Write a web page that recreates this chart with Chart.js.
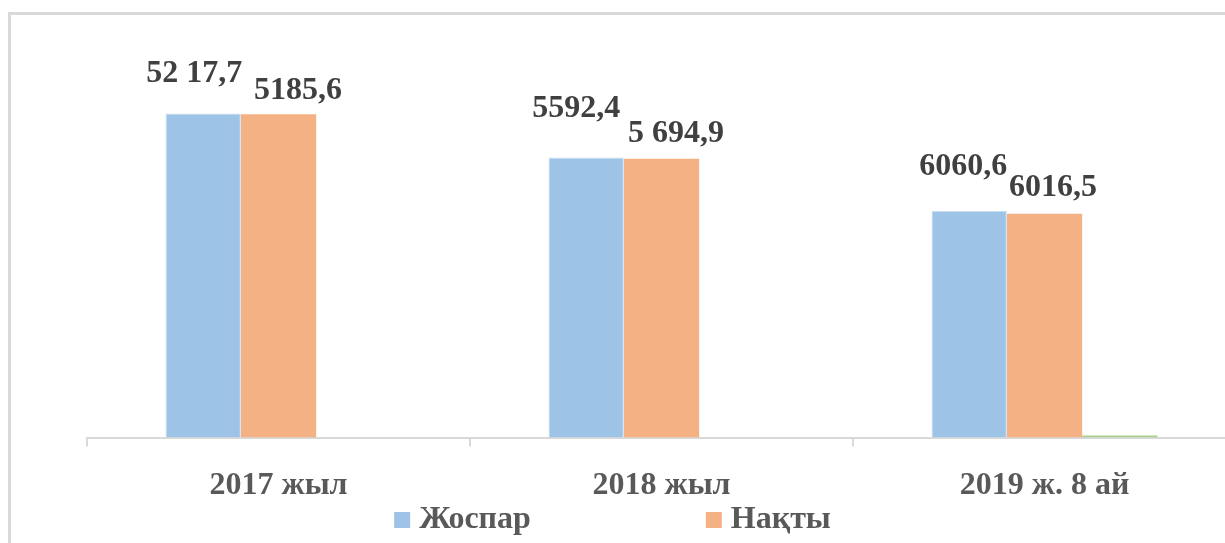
<!DOCTYPE html>
<html>
<head>
<meta charset="utf-8">
<script src="https://cdn.jsdelivr.net/npm/chart.js@4.4.1/dist/chart.umd.min.js"></script>
<style>
  html, body { margin: 0; padding: 0; background: #ffffff; overflow: hidden; width: 1225px; height: 543px; }
  canvas { display: block; }
</style>
</head>
<body>
<canvas id="c" width="1240" height="543" style="width:1240px;height:543px"></canvas>
<script>
// ---- data ----
const categories = ['2017 жыл', '2018 жыл', '2019 ж. 8 ай'];
const seriesNames = ['Жоспар', 'Нақты'];
// bar heights as drawn in the picture (relative units, axis 0..100)
const planHeights = [81.1, 70.1, 56.8];
const factHeights = [80.9, 69.8, 56.0];
const thirdHeights = [0, 0, 0.5];
// value labels printed above the bars
const planLabels = ['52 17,7', '5592,4', '6060,6'];
const factLabels = ['5185,6', '5 694,9', '6016,5'];

// ---- styles / label placement ----
const FONT = '"Liberation Serif", "Times New Roman", serif';
const colors = ['#9DC3E6', '#F4B183', '#A9D18E'];
const labelOffsets = [
  [[-9, -32], [-10, -40], [-6, -36]],
  [[19.5, -15], [14.5, -17], [8.5, -18]]
];
const valueLabels = [planLabels, factLabels];

const framePlugin = {
  id: 'frame',
  beforeDraw(chart) {
    const ctx = chart.ctx;
    ctx.save();
    ctx.fillStyle = '#d9d9d9';
    ctx.fillRect(8, 12, chart.width, 3);
    ctx.fillRect(8, 12, 3, chart.height);
    ctx.restore();
  }
};

const valueLabelPlugin = {
  id: 'valueLabels',
  afterDatasetsDraw(chart) {
    const ctx = chart.ctx;
    ctx.save();
    ctx.font = 'bold 32px ' + FONT;
    ctx.fillStyle = '#404040';
    ctx.textAlign = 'center';
    ctx.textBaseline = 'alphabetic';
    valueLabels.forEach((labels, di) => {
      const meta = chart.getDatasetMeta(di);
      meta.data.forEach((bar, i) => {
        const off = labelOffsets[di][i];
        ctx.fillText(labels[i], bar.x + off[0], bar.y + off[1]);
      });
    });
    ctx.restore();
  }
};

const customLegend = {
  id: 'customLegend',
  afterDraw(chart) {
    const ctx = chart.ctx;
    ctx.save();
    ctx.font = 'bold 32px ' + FONT;
    const box = 16, gapText = 9, gapItems = 175;
    const widths = seriesNames.map(n => box + gapText + ctx.measureText(n).width);
    const total = widths.reduce((a, b) => a + b, 0) + gapItems * (seriesNames.length - 1);
    let x = 612.5 - total / 2;
    const baseline = 528;
    seriesNames.forEach((n, i) => {
      ctx.fillStyle = colors[i];
      ctx.fillRect(x, baseline - 16, box, box);
      ctx.fillStyle = '#595959';
      ctx.textAlign = 'left';
      ctx.textBaseline = 'alphabetic';
      ctx.fillText(n, x + box + gapText, baseline);
      x += widths[i] + gapItems;
    });
    ctx.restore();
  }
};

new Chart(document.getElementById('c'), {
  type: 'bar',
  data: {
    labels: categories,
    datasets: [
      { label: seriesNames[0], data: planHeights, backgroundColor: colors[0], borderColor: '#c9dff2', borderWidth: 1 },
      { label: seriesNames[1], data: factHeights, backgroundColor: colors[1], borderWidth: 0 },
      { label: '', data: thirdHeights, backgroundColor: colors[2], borderWidth: 0 }
    ]
  },
  options: {
    responsive: false,
    animation: false,
    devicePixelRatio: 1,
    layout: { padding: { left: 87, right: 4, top: 38, bottom: 18 } },
    datasets: { bar: { categoryPercentage: 0.59, barPercentage: 1.0 } },
    plugins: {
      legend: { display: false },
      tooltip: { enabled: false }
    },
    scales: {
      x: {
        grid: { display: true, offset: true, drawOnChartArea: false, drawTicks: true, tickLength: 9, color: '#d9d9d9', lineWidth: 2 },
        border: { display: true, color: '#d9d9d9', width: 2 },
        ticks: { color: '#595959', font: { family: FONT, size: 32, weight: 'bold' }, padding: 20, maxRotation: 0, autoSkip: false }
      },
      y: {
        display: false,
        min: 0,
        max: 100,
        grid: { display: false }
      }
    }
  },
  plugins: [framePlugin, valueLabelPlugin, customLegend]
});
</script>
</body>
</html>
